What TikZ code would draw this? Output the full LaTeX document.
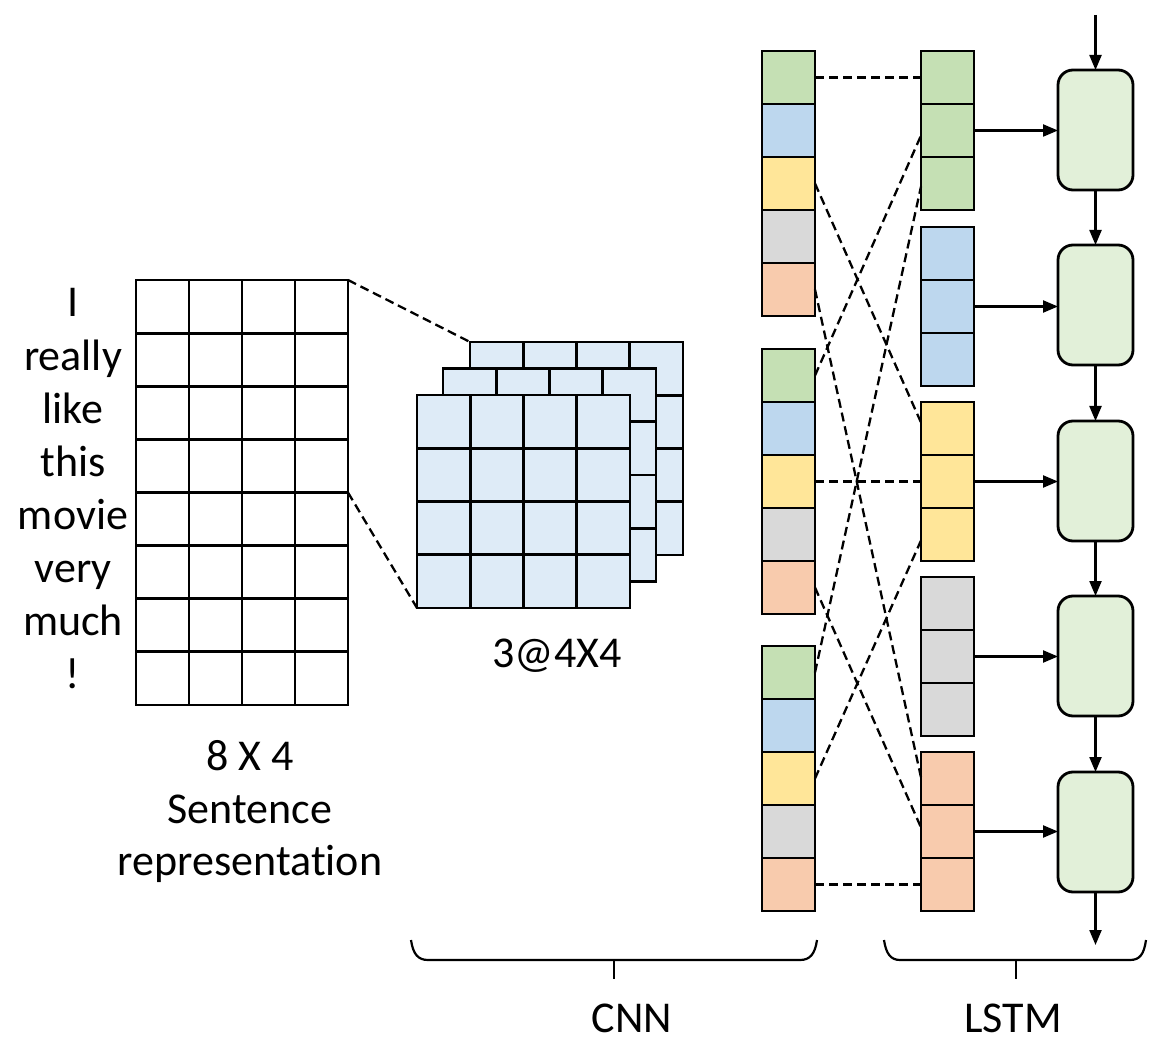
\documentclass[tikz,border=0pt]{standalone}
\usepackage{fontspec}
\setmainfont{Carlito}[Ligatures=NoCommon]
\usetikzlibrary{arrows.meta,calc}
\definecolor{cgreen}{HTML}{C5E0B4}
\definecolor{cblue}{HTML}{BDD7EE}
\definecolor{cyellow}{HTML}{FFE699}
\definecolor{cgray}{HTML}{D9D9D9}
\definecolor{corange}{HTML}{F8CBAD}
\definecolor{cmap}{HTML}{DEEBF7}
\definecolor{clstm}{HTML}{E2F0D9}
\begin{document}
\begin{tikzpicture}[x=1pt,y=-1pt,
  txt/.style={font=\fontsize{44}{52}\selectfont, inner sep=0, anchor=base},
  cellbox/.style={draw, line width=2.8pt, minimum width=53pt, minimum height=53pt, inner sep=0, outer sep=0},
  mapbox/.style={draw, fill=cmap, line width=2.8pt, minimum width=213pt, minimum height=213pt, inner sep=0, outer sep=0},
  lstmbox/.style={draw, fill=clstm, line width=2.8pt, rounded corners=15pt, minimum width=75pt, minimum height=120pt, inner sep=0, outer sep=0},
  gline/.style={line width=2.8pt},
  arr/.style={line width=2.2pt, -{Triangle[length=15pt,width=12pt]}},
  dline/.style={line width=2.3pt, dash pattern=on 9pt off 5pt},
  brace/.style={line width=2.2pt}]
\useasboundingbox (0,0) rectangle (1160,1064);

% ---- sentence grid
\node[draw, line width=2.8pt, minimum width=212pt, minimum height=425pt, inner sep=0, outer sep=0] (grid) at (242,492.5) {};
\foreach \i in {1,2,3}
  \draw[gline] ($(grid.north west)!\i/4!(grid.north east)$) -- ($(grid.south west)!\i/4!(grid.south east)$);
\foreach \j in {1,...,7}
  \draw[gline] ($(grid.north west)!\j/8!(grid.south west)$) -- ($(grid.north east)!\j/8!(grid.south east)$);

\foreach \w [count=\k from 0] in {I,really,like,this,movie,very,much,!}
  \node[txt] (w\k) at (73,{280+53.125*\k+37}) {\w};

\node[txt] (dim) at (250,770) {8 X 4};
\node[txt] (sent) at (250,823) {Sentence};
\node[txt] (repr) at (250,875) {representation};

% ---- feature maps
\foreach \n/\cx/\cy in {mapC/576.5/448.5, mapB/549.5/475, mapA/523.5/501.5}{
  \node[mapbox] (\n) at (\cx,\cy) {};
  \foreach \i in {1,2,3}{
    \draw[gline] ($(\n.north west)!\i/4!(\n.north east)$) -- ($(\n.south west)!\i/4!(\n.south east)$);
    \draw[gline] ($(\n.north west)!\i/4!(\n.south west)$) -- ($(\n.north east)!\i/4!(\n.south east)$);
  }
}
\node[txt] (mlabel) at (557,667) {3@4X4};

\draw[dline] (grid.north east) -- (mapC.north west);
\draw[dline] (grid.east) -- (mapA.south west);

% ---- CNN stacks
\foreach \s/\top in {1/51, 2/349, 3/646}{
  \foreach \c/\col [count=\i from 0] in {a/cgreen, b/cblue, c/cyellow, d/cgray, e/corange}
    \node[cellbox, fill=\col] (s\s\c) at (788.5,{\top+26.5+53*\i}) {};
}

% ---- LSTM input groups
\foreach \g/\top/\col in {1/51/cgreen, 2/227/cblue, 3/402/cyellow, 4/577/cgray, 5/752/corange}{
  \foreach \c [count=\i from 0] in {a,b,c}
    \node[cellbox, fill=\col] (g\g\c) at (947.5,{\top+26.5+53*\i}) {};
}

% ---- dashed connections
\draw[dline] (s1a.east) -- (g1a.west |- s1a.east);
\draw[dline] (s2a.east) -- ($(g1b.west)+(0,5)$);
\draw[dline] (s3a.east) -- ($(g1c.west)+(0,3)$);
\draw[dline] (s1c.east) -- ($(g3a.west)+(0,-6)$);
\draw[dline] (s2c.east) -- (g3b.west |- s2c.east);
\draw[dline] (s3c.east) -- ($(g3c.west)+(0,6)$);
\draw[dline] (s1e.east) -- ($(g5a.west)+(0,-1)$);
\draw[dline] (s2e.east) -- ($(g5b.west)+(0,-4)$);
\draw[dline] (s3e.east) -- (g5c.west |- s3e.east);

% ---- LSTM cells
\foreach \k/\cy in {1/130, 2/305, 3/481, 4/656, 5/832}
  \node[lstmbox] (l\k) at (1095.5,\cy) {};

\coordinate (intop) at (1095.5,15);
\coordinate (outbot) at (1095.5,945);
\draw[arr] (intop) -- (l1.north);
\draw[arr] (l1.south) -- (l2.north);
\draw[arr] (l2.south) -- (l3.north);
\draw[arr] (l3.south) -- (l4.north);
\draw[arr] (l4.south) -- (l5.north);
\draw[arr] (l5.south) -- (outbot);
\foreach \k in {1,...,5}
  \draw[arr] (g\k b.east) -- (g\k b.east -| l\k.west);

% ---- braces
\draw[brace] (411,940) .. controls (413,954) and (418,960) .. (428,960) -- (800,960) .. controls (810,960) and (815,954) .. (817,940);
\draw[brace] (614,960) -- (614,979);
\draw[brace] (884,940) .. controls (886,954) and (891,960) .. (900,960) -- (1130,960) .. controls (1140,960) and (1144,954) .. (1146,940);
\draw[brace] (1016,960) -- (1016,979);
\node[txt] (cnn) at (632,1032) {CNN};
\node[txt] (lstm) at (1013,1032) {LSTM};
\end{tikzpicture}
\end{document}
